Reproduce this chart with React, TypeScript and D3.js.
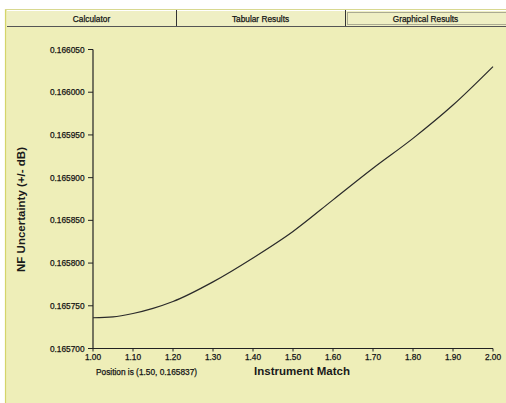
import React from "react";
import * as d3 from "d3";

const xValues = [1.0, 1.05, 1.1, 1.15, 1.2, 1.3, 1.4, 1.5, 1.6, 1.7, 1.8, 1.9, 2.0];
const yValues = [
  0.165736, 0.165737, 0.165741, 0.165747, 0.165755, 0.165778, 0.165806, 0.165837,
  0.165874, 0.165911, 0.165946, 0.165985, 0.16603,
];
const xTicks = [1.0, 1.1, 1.2, 1.3, 1.4, 1.5, 1.6, 1.7, 1.8, 1.9, 2.0];
const yTicks = [0.1657, 0.16575, 0.1658, 0.16585, 0.1659, 0.16595, 0.166, 0.16605];
const tabs = ["Calculator", "Tabular Results", "Graphical Results"];
const xTitle = "Instrument Match";
const yTitle = "NF Uncertainty (+/- dB)";
const positionText = "Position is (1.50, 0.165837)";

const W = 506;
const H = 403;
const FONT = "'Liberation Sans', Arial, sans-serif";
const BG = "#EEEEB8";
const SMALL = { fontSize: 8.3, fill: "#151515", stroke: "#151515", strokeWidth: 0.25 };

export default function App() {
  const x = d3.scaleLinear().domain([1, 2]).range([93, 493]);
  const y = d3.scaleLinear().domain([0.1657, 0.16605]).range([348.5, 49.5]);
  const line = d3
    .line<number>()
    .x((_, i) => x(xValues[i]))
    .y((d) => y(d))
    .curve(d3.curveMonotoneX);

  const tabX = [7, 176, 345, 506];

  return (
    <svg
      width={W}
      height={H}
      style={{ position: "absolute", left: 0, top: 0, display: "block" }}
      fontFamily={FONT}
    >
      <rect x={0} y={0} width={W} height={H} fill="#ffffff" />
      <rect x={5} y={9} width={W - 5} height={H - 9} fill={BG} />
      <line x1={5.5} y1={9} x2={5.5} y2={H} stroke="#D4D46A" strokeWidth={1.2} />
      <line x1={5} y1={9.5} x2={W} y2={9.5} stroke="#D8D890" strokeWidth={1} />

      {/* tabs */}
      {tabs.map((t, i) => (
        <g key={t}>
          <rect x={tabX[i]} y={10} width={tabX[i + 1] - tabX[i]} height={17} fill="#EFEFC4" />
          <line x1={tabX[i]} y1={10.5} x2={tabX[i + 1]} y2={10.5} stroke="#ffffff" strokeWidth={1} />
          <text
            x={(tabX[i] + tabX[i + 1]) / 2}
            y={21.5}
            textAnchor="middle"
            {...SMALL}
          >
            {t}
          </text>
        </g>
      ))}
      <line x1={176.5} y1={10} x2={176.5} y2={27} stroke="#333" strokeWidth={1} />
      <line x1={345.5} y1={10} x2={345.5} y2={27} stroke="#333" strokeWidth={1} />
      <line x1={7} y1={26.5} x2={W} y2={26.5} stroke="#555" strokeWidth={1} />
      <rect
        x={347.5}
        y={12.5}
        width={160}
        height={12}
        fill="none"
        stroke="#444"
        strokeWidth={0.8}
        strokeDasharray="1,1"
      />

      {/* axes */}
      <line x1={x(1)} y1={y(0.16605)} x2={x(1)} y2={y(0.1657)} stroke="#222" strokeWidth={1.2} />
      <line x1={x(1)} y1={y(0.1657)} x2={x(2)} y2={y(0.1657)} stroke="#222" strokeWidth={1.2} />
      {yTicks.map((v) => (
        <g key={v}>
          <line x1={x(1) - 5} y1={y(v)} x2={x(1)} y2={y(v)} stroke="#222" strokeWidth={1} />
          <text x={x(1) - 8.5} y={y(v) + 3} textAnchor="end" {...SMALL}>
            {v.toFixed(6)}
          </text>
        </g>
      ))}
      {xTicks.map((v) => (
        <g key={v}>
          <line x1={x(v)} y1={y(0.1657)} x2={x(v)} y2={y(0.1657) + 3} stroke="#222" strokeWidth={1} />
          <text x={x(v)} y={360} textAnchor="middle" {...SMALL}>
            {v.toFixed(2)}
          </text>
        </g>
      ))}

      <path d={line(yValues) || ""} fill="none" stroke="#2a2a2a" strokeWidth={1.2} />

      <text x={302} y={375} fontSize={11.5} fontWeight="bold" textAnchor="middle" fill="#1a1a1a">
        {xTitle}
      </text>
      <text
        transform={`translate(25,209.5) rotate(-90)`}
        fontSize={11.5}
        fontWeight="bold"
        textAnchor="middle"
        fill="#1a1a1a"
      >
        {yTitle}
      </text>
      <text x={96} y={375} {...SMALL}>
        {positionText}
      </text>
    </svg>
  );
}
